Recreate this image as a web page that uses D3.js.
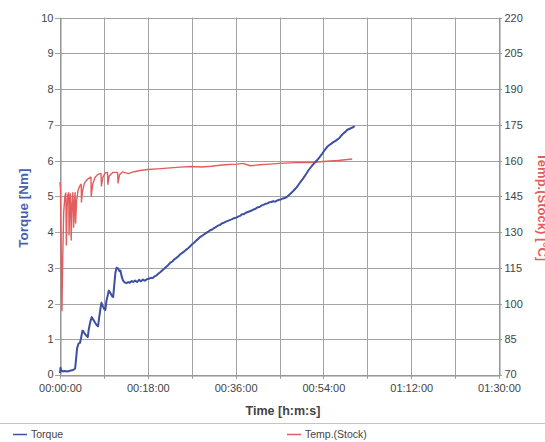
<!DOCTYPE html>
<html>
<head>
<meta charset="utf-8">
<script src="https://cdn.jsdelivr.net/npm/d3@7"></script>
<style>
  html, body { margin: 0; padding: 0; background: #fff; }
  svg { display: block; }
  text { font-family: "Liberation Sans Narrow", "Liberation Sans", Arial, sans-serif; }
</style>
</head>
<body>
<svg id="chart" width="545" height="442"></svg>
<script>
// Time axis in minutes, 0 .. 90 (00:00:00 .. 01:30:00)
const timeDomain = [0, 90];
const timeGridMinutes = [0, 9, 18, 27, 36, 45, 54, 63, 72, 81, 90];
const timeLabelMinutes = [0, 18, 36, 54, 72, 90];

// Left axis: torque [Nm]
const torqueTicks = [0, 1, 2, 3, 4, 5, 6, 7, 8, 9, 10];
// Right axis: stock temperature [°C]
const tempTicks = [70, 85, 100, 115, 130, 145, 160, 175, 190, 205, 220];

// Torque measurement: [minutes, Nm]
const torqueData = [
  [0.0,0.05],[0.1,0.2],[0.25,0.13],[0.6,0.1],[1.0,0.11],[1.5,0.1],[2.0,0.12],[2.5,0.13],[2.9,0.16],[3.1,0.18],
  [3.3,0.45],[3.5,0.75],[3.8,0.88],[4.1,0.9],[4.3,1.02],[4.6,1.24],[4.8,1.22],[5.1,1.15],[5.4,1.1],[5.7,1.06],
  [5.9,1.28],[6.2,1.48],[6.5,1.62],[6.8,1.55],[7.2,1.46],[7.5,1.4],[7.8,1.36],[8.0,1.58],[8.3,1.86],[8.5,2.02],
  [8.8,1.92],[9.1,1.84],[9.3,1.82],[9.5,2.06],[9.8,2.24],[10.0,2.36],[10.3,2.3],[10.7,2.2],[10.9,2.18],[11.1,2.48],
  [11.35,2.86],[11.6,3.0],[11.9,2.98],[12.2,2.9],[12.4,2.92],[12.6,2.78],[12.9,2.65],[13.2,2.6],[13.6,2.57],[14.0,2.6],
  [14.3,2.58],[14.7,2.63],[15.0,2.6],[15.4,2.64],[15.8,2.6],[16.2,2.66],[16.6,2.62],[17.0,2.67],[17.4,2.64],[17.8,2.68],
  [18.2,2.69],[18.6,2.72],[19.0,2.71],[19.4,2.76],[19.8,2.79],[20.2,2.84],[20.6,2.88],[21.0,2.93],[21.4,2.98],[21.8,3.03],
  [22.2,3.08],[22.6,3.14],[23.0,3.17],[23.4,3.23],[23.8,3.27],[24.2,3.31],[24.6,3.37],[25.0,3.41],[25.4,3.45],[25.8,3.5],
  [26.2,3.54],[26.7,3.6],[27.1,3.66],[27.5,3.7],[27.9,3.76],[28.3,3.8],[28.7,3.86],[29.1,3.89],[29.5,3.93],[29.9,3.97],
  [30.3,4.0],[30.8,4.05],[31.2,4.07],[31.6,4.11],[32.0,4.14],[32.4,4.18],[32.8,4.2],[33.2,4.24],[33.6,4.26],[34.0,4.29],
  [34.4,4.31],[34.9,4.34],[35.3,4.36],[35.7,4.39],[36.1,4.4],[36.5,4.43],[36.9,4.45],[37.3,4.5],[37.7,4.5],[38.1,4.54],
  [38.5,4.56],[38.9,4.58],[39.3,4.6],[39.7,4.63],[40.1,4.65],[40.5,4.69],[40.9,4.7],[41.3,4.74],[41.7,4.76],[42.1,4.79],
  [42.5,4.8],[42.9,4.83],[43.3,4.84],[43.7,4.86],[44.1,4.85],[44.5,4.88],[44.9,4.9],[45.3,4.91],[45.7,4.94],[46.1,4.95],
  [46.5,4.98],[46.9,5.03],[47.3,5.08],[47.7,5.13],[48.1,5.19],[48.5,5.25],[48.9,5.32],[49.3,5.4],[49.7,5.47],[50.1,5.55],
  [50.5,5.63],[50.9,5.72],[51.3,5.79],[51.7,5.86],[52.1,5.92],[52.5,5.98],[52.9,6.04],[53.3,6.11],[53.7,6.18],[54.1,6.26],
  [54.5,6.33],[54.9,6.4],[55.3,6.44],[55.7,6.48],[56.1,6.52],[56.5,6.55],[56.9,6.59],[57.3,6.63],[57.7,6.7],[58.1,6.76],
  [58.5,6.8],[58.9,6.86],[59.3,6.88],[59.7,6.91],[60.1,6.93],[60.4,6.96]
];

// Stock temperature measurement: [minutes, °C]
const tempData = [
  [0,151],[0.1,148],[0.25,120],[0.4,97],[0.55,118],[0.75,138],[1.0,145],[1.2,146.4],[1.3,124.5],[1.45,140],
  [1.6,145.5],[1.8,146.5],[1.85,128.7],[2.0,141],[2.15,146],[2.3,126.6],[2.45,141],[2.65,146.5],[2.8,132],[2.95,142],
  [3.1,146.5],[3.2,133.8],[3.4,143],[3.7,147.5],[4.1,149.5],[4.35,150],[4.4,142.6],[4.6,147],[5.0,150.5],[5.6,152],
  [6.2,153],[6.35,153],[6.4,145],[6.7,150],[7.2,153],[7.8,154.2],[8.4,154.6],[8.5,149.3],[8.8,153],[9.3,154.8],
  [9.75,155],[9.8,150],[10.1,153.5],[10.8,155],[11.8,155],[11.9,150.6],[12.2,154],[12.8,155.2],[14,154.5],[15.2,155.3],
  [16.4,155.8],[18,156.2],[20,156.5],[22,156.8],[24.6,157.2],[27,157.5],[29,157.3],[31,157.6],[32.8,158],[34.5,158.3],
  [36.3,158.5],[37.5,158.8],[39,157.8],[41,158.2],[43,158.5],[45,158.8],[47.2,159],[49,159.2],[51,159.1],[52.7,159.4],
  [54,159.6],[55.4,159.8],[57,160],[58.5,160.3],[59.9,160.6]
];

const colors = {
  torque: "#3e50a0",
  torqueTitle: "#4a62ad",
  temp: "#e35d5f",
  grid: "#a3a3a3",
  axis: "#8c8c8c",
  label: "#444444"
};

const svg = d3.select("#chart");
const plot = { left: 60, right: 499, top: 17.5, bottom: 375 };

const x = d3.scaleLinear().domain(timeDomain).range([plot.left, plot.right]);
const yT = d3.scaleLinear().domain([0, 10]).range([plot.bottom, plot.top]);
const yC = d3.scaleLinear().domain([70, 220]).range([plot.bottom, plot.top]);

const pad2 = n => String(n).padStart(2, "0");
const fmtTime = m => `${pad2(Math.floor(m / 60))}:${pad2(Math.round(m % 60))}:00`;

// Grid
const grid = svg.append("g").attr("stroke", colors.grid).attr("stroke-width", 1);
grid.selectAll("line.v").data(timeGridMinutes).join("line")
  .attr("class", "v")
  .attr("x1", d => Math.round(x(d)) + 0.5).attr("x2", d => Math.round(x(d)) + 0.5)
  .attr("y1", plot.top).attr("y2", plot.bottom + 4);
grid.selectAll("line.h").data(torqueTicks).join("line")
  .attr("class", "h")
  .attr("x1", plot.left - 5).attr("x2", plot.right + 3)
  .attr("y1", d => Math.round(yT(d)) + 0.5).attr("y2", d => Math.round(yT(d)) + 0.5);

// Axes
const axisStyle = g => {
  g.select(".domain").attr("stroke", colors.axis);
  g.selectAll(".tick line").remove();
  g.selectAll("text").attr("fill", colors.label).attr("font-size", 11);
};

svg.append("g")
  .attr("transform", `translate(${plot.left + 0.5},0)`)
  .call(d3.axisLeft(yT).tickValues(torqueTicks).tickSize(5).tickPadding(2).tickSizeOuter(0))
  .call(axisStyle)
  .call(g => g.selectAll(".tick").filter(d => d === 0).select("text").attr("dy", "0.2em"));

svg.append("g")
  .attr("transform", `translate(${plot.right + 0.5},0)`)
  .call(d3.axisRight(yC).tickValues(tempTicks).tickSize(3).tickPadding(2).tickSizeOuter(0))
  .call(axisStyle)
  .call(g => g.selectAll(".tick").filter(d => d === 70).select("text").attr("dy", "0.2em"));

svg.append("g")
  .attr("transform", `translate(0,${plot.bottom + 0.5})`)
  .call(d3.axisBottom(x).tickValues(timeLabelMinutes).tickFormat(fmtTime).tickSize(4).tickPadding(5).tickSizeOuter(0))
  .call(axisStyle);

// Axis titles
svg.append("text")
  .attr("transform", `translate(28,208) rotate(-90)`)
  .attr("text-anchor", "middle")
  .attr("font-family", "Liberation Sans, Arial, sans-serif")
  .attr("font-weight", "bold").attr("font-size", 13.5)
  .attr("fill", colors.torqueTitle)
  .text("Torque [Nm]");

svg.append("text")
  .attr("transform", `translate(538,207) rotate(90)`)
  .attr("text-anchor", "middle")
  .attr("font-family", "Liberation Sans, Arial, sans-serif")
  .attr("font-weight", "bold").attr("font-size", 13)
  .attr("fill", colors.temp)
  .text("Temp.(Stock) [°C]");

svg.append("text")
  .attr("x", 283).attr("y", 415)
  .attr("text-anchor", "middle")
  .attr("font-family", "Liberation Sans, Arial, sans-serif")
  .attr("font-weight", "bold").attr("font-size", 12.5)
  .attr("fill", colors.label)
  .text("Time [h:m:s]");

// Series
const lineT = d3.line().x(d => x(d[0])).y(d => yT(d[1]));
const lineC = d3.line().x(d => x(d[0])).y(d => yC(d[1]));

svg.append("path").datum(tempData)
  .attr("d", lineC).attr("fill", "none")
  .attr("stroke", colors.temp).attr("stroke-width", 1.4)
  .attr("stroke-linejoin", "round");

svg.append("path").datum(torqueData)
  .attr("d", lineT).attr("fill", "none")
  .attr("stroke", colors.torque).attr("stroke-width", 2)
  .attr("stroke-linejoin", "round");

// Legend
svg.append("line")
  .attr("x1", 0).attr("x2", 545).attr("y1", 423.5).attr("y2", 423.5)
  .attr("stroke", "#c4c4c4");

const legendItems = [
  { label: "Torque", color: colors.torque, x: 13 },
  { label: "Temp.(Stock)", color: colors.temp, x: 287 }
];
const leg = svg.append("g").selectAll("g").data(legendItems).join("g")
  .attr("transform", d => `translate(${d.x},434)`);
leg.append("line").attr("x1", 0).attr("x2", 14).attr("y1", 0.5).attr("y2", 0.5)
  .attr("stroke", d => d.color).attr("stroke-width", 1.5);
leg.append("text").attr("x", 18).attr("y", 4)
  .attr("font-size", 10.5).attr("fill", colors.label)
  .text(d => d.label);
</script>
</body>
</html>
